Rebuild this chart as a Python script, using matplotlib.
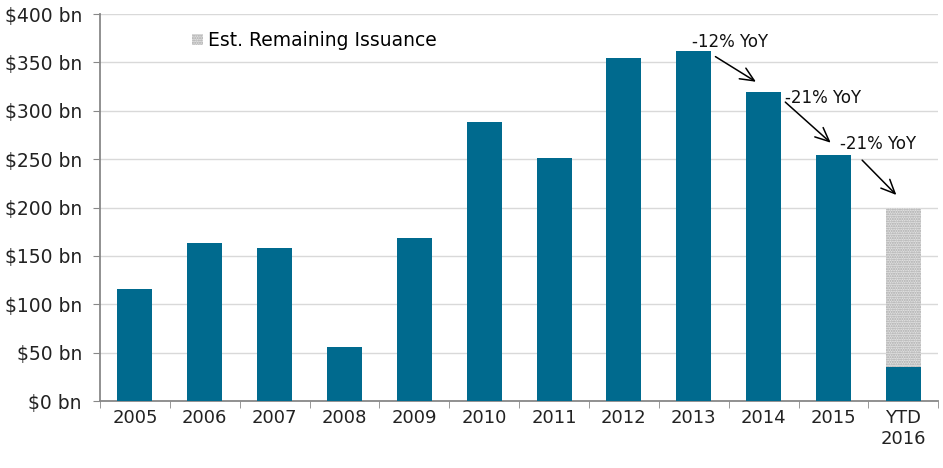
import matplotlib
matplotlib.use("Agg")
import matplotlib.pyplot as plt
import numpy as np

years = ['2005', '2006', '2007', '2008', '2009', '2010', '2011', '2012',
         '2013', '2014', '2015', 'YTD\n2016']
issued = [116, 163, 158, 56, 169, 288, 251, 355, 362, 319, 254, 35]
remaining = [0, 0, 0, 0, 0, 0, 0, 0, 0, 0, 0, 165]
yoy_labels = ['-12% YoY', '-21% YoY', '-21% YoY']
yticks = [0, 50, 100, 150, 200, 250, 300, 350, 400]

plt.rcParams['font.family'] = ['DejaVu Sans']
plt.rcParams['hatch.color'] = '#a8a8a8'
plt.rcParams['hatch.linewidth'] = 1.0

fig = plt.figure(figsize=(9.43, 4.68), dpi=100)
ax = fig.add_axes([0.106, 0.143, 0.889, 0.827])

x = np.arange(len(years))
ax.bar(x, issued, width=0.5, color='#006a8e', zorder=3)
ax.bar(x, remaining, width=0.5, bottom=issued, facecolor='#e2e2e2',
       hatch='.......', linewidth=0, zorder=3, label='Est. Remaining Issuance')

ax.set_xlim(-0.5, 11.5)
ax.set_ylim(0, 400)
ax.set_yticks(yticks)
ax.set_yticklabels(['$%d bn' % v for v in yticks], fontsize=13.5, color='#222222')
ax.set_xticks(x)
ax.set_xticklabels(years, fontsize=13, color='#222222')
ax.set_xticks(np.arange(-0.5, 12, 1), minor=True)
ax.tick_params(axis='x', which='major', length=0, pad=6)
ax.tick_params(axis='x', which='minor', length=5, color='#888888', direction='out')
ax.tick_params(axis='y', length=5, color='#888888', direction='out', pad=8)

ax.grid(axis='y', color='#d9d9d9', linewidth=1, zorder=0)
for s in ['top', 'right']:
    ax.spines[s].set_visible(False)
ax.spines['left'].set_color('#888888')
ax.spines['bottom'].set_color('#888888')
ax.spines['left'].set_linewidth(1.3)
ax.spines['bottom'].set_linewidth(1.3)

leg = ax.legend(loc='upper left', bbox_to_anchor=(0.09, 1.0), frameon=False,
                fontsize=13.5, handlelength=0.55, handleheight=0.55, handletextpad=0.3)

# YoY annotations
text_pos = [(7.97, 371), (9.31, 313), (10.09, 266)]
arrows = [((8.31, 356), (8.89, 330)), ((9.31, 309), (9.96, 267)), ((10.41, 249), (10.9, 213))]
for lab, tp, (a, b) in zip(yoy_labels, text_pos, arrows):
    ax.text(tp[0], tp[1], lab, fontsize=12, va='center', ha='left', color='#111111')
    ax.annotate('', xy=b, xytext=a,
                arrowprops=dict(arrowstyle='->,head_length=1.0,head_width=0.45',
                                color='black', lw=1.1, shrinkA=0, shrinkB=0))

plt.savefig('out.png', dpi=100)
